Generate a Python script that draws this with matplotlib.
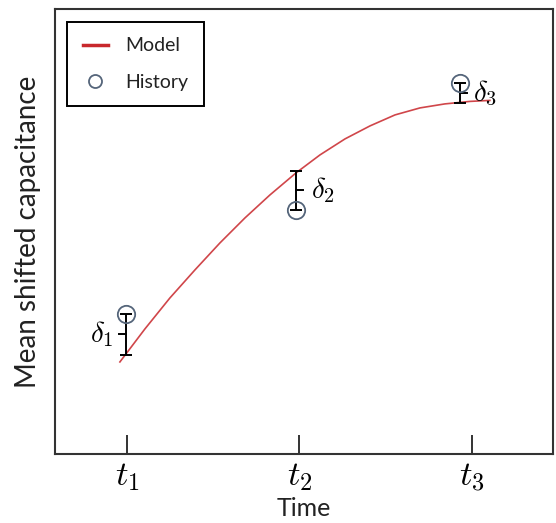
import matplotlib
matplotlib.use("Agg")
import matplotlib.pyplot as plt
import numpy as np

# ---- data (time in units of t, value in arbitrary units) ----
model_t = [0.959, 1.104, 1.249, 1.394, 1.539, 1.684, 1.829, 1.980, 2.119, 2.264,
           2.409, 2.554, 2.699, 2.843, 2.988, 3.104]
model_v = [92, 125, 156, 184, 211, 236, 259, 281, 299, 315,
           328, 339, 346, 350, 352.5, 353.5]

hist_t = [0.994, 1.980, 2.930]
hist_v = [140, 244, 371]
model_at_hist = [99, 283, 351]

delta_labels = [r"$\delta_1$", r"$\delta_2$", r"$\delta_3$"]
tick_pos = [1, 2, 3]
tick_labels = [r"$t_1$", r"$t_2$", r"$t_3$"]

plt.rcParams['font.family'] = ['Lato', 'DejaVu Sans']
plt.rcParams['mathtext.fontset'] = 'cm'

fig = plt.figure(figsize=(5.56, 5.23), dpi=100)
ax = fig.add_axes([0.099, 0.132, 0.8956, 0.851])

ax.plot(model_t, model_v, color='#d0464a', lw=1.2, label='Model', zorder=2,
        solid_joinstyle='round')

# error bars from model to history
for t, h, m in zip(hist_t, hist_v, model_at_hist):
    ax.errorbar([t], [(h + m) / 2], yerr=[[abs(h - m) / 2]], fmt='none',
                ecolor='black', elinewidth=1.4, capsize=4.5, capthick=1.4, zorder=3)

ax.plot(hist_t, hist_v, 'o', mfc='none', mec='#55657a', mew=1.3, ms=12.5,
        label='History', zorder=4)

# middle ticks + delta labels
mid_dirs = [-1, 1, 1]
offsets = [0.07, 0.085, 0.075]
for i, (t, h, m) in enumerate(zip(hist_t, hist_v, model_at_hist)):
    mid = (h + m) / 2
    d = mid_dirs[i]
    ax.plot([t, t + d * 0.04], [mid, mid], color='black', lw=1.4, zorder=3)
    if d < 0:
        ax.text(t - offsets[i], mid, delta_labels[i], ha='right', va='center', fontsize=21)
    else:
        ax.text(t + offsets[i], mid, delta_labels[i], ha='left', va='center', fontsize=21)

ax.set_xlim(0.583, 3.47)
ax.set_ylim(0, 445)
ax.set_xticks(tick_pos)
ax.set_xticklabels(tick_labels, fontsize=25)
ax.set_yticks([])
ax.tick_params(axis='x', direction='in', length=13.5, width=1.4, color='#333333', pad=5)
for s in ax.spines.values():
    s.set_linewidth(1.5)
    s.set_color('#333333')

ax.set_xlabel('Time', fontsize=18, labelpad=2, color='#222222')
ax.set_ylabel('Mean shifted capacitance', fontsize=20, labelpad=10, color='#222222')

leg = ax.legend(loc='upper left', bbox_to_anchor=(0.024, 0.971), borderaxespad=0,
                fancybox=False, edgecolor='black', framealpha=1, fontsize=14,
                labelspacing=1.0, handlelength=1.3, borderpad=0.8,
                handletextpad=0.9, markerscale=0.75)
leg.get_frame().set_linewidth(1.4)
leg.get_lines()[0].set_linewidth(2.5)
leg.get_lines()[0].set_color('#c8282c')
for txt in leg.get_texts():
    txt.set_color('#222222')

fig.savefig('out.png', dpi=100)
